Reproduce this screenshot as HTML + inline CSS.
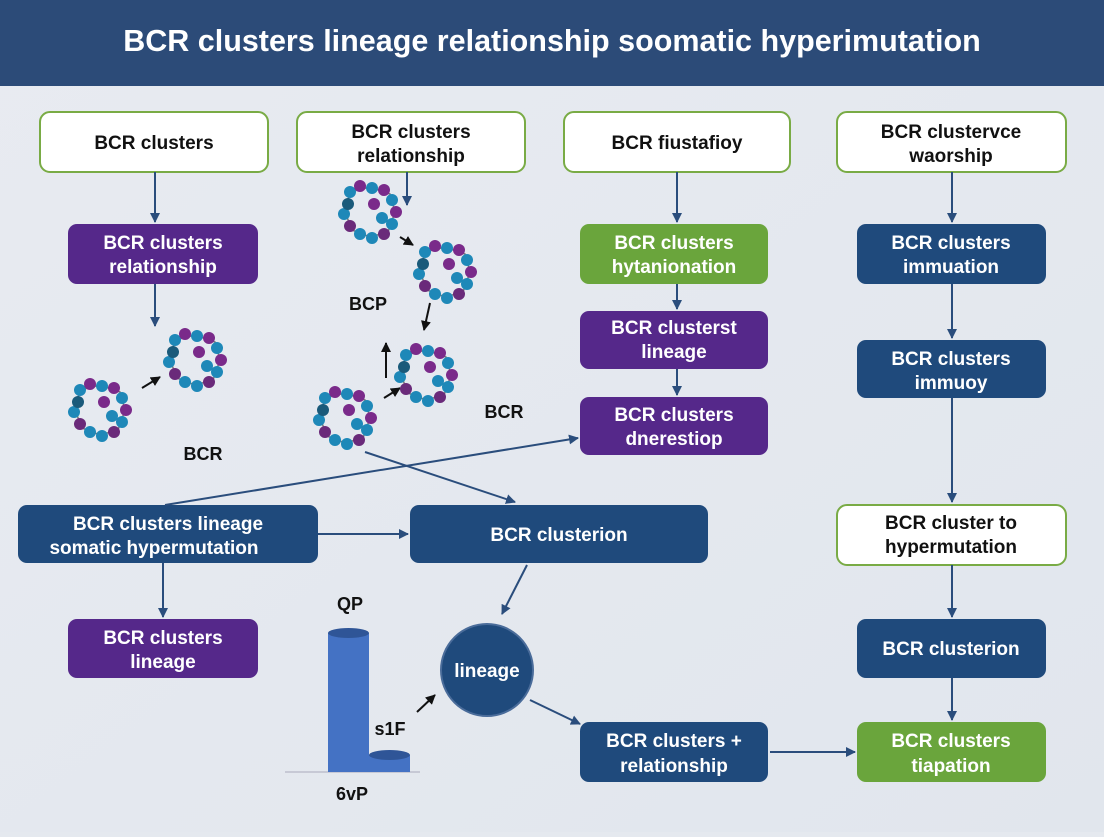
<!DOCTYPE html>
<html><head><meta charset="utf-8"><style>
body{margin:0;width:1104px;height:832px;overflow:hidden;background:#e5e9ef;font-family:"Liberation Sans",sans-serif}
</style></head><body>
<svg width="1104" height="832" viewBox="0 0 1104 832" xmlns="http://www.w3.org/2000/svg" font-family="Liberation Sans, sans-serif">
<defs>
<linearGradient id="bg" x1="0" y1="0" x2="1" y2="1"><stop offset="0" stop-color="#e8ebf1"/><stop offset="1" stop-color="#e1e6ed"/></linearGradient>
<marker id="a" viewBox="0 0 10 10" refX="9" refY="5" markerWidth="5" markerHeight="5" orient="auto"><path d="M0,0L10,5L0,10z" fill="#2a4d7c"/></marker>
<marker id="k" viewBox="0 0 10 10" refX="9" refY="5" markerWidth="5" markerHeight="5" orient="auto"><path d="M0,0L10,5L0,10z" fill="#111"/></marker>
<g id="mol">
<g stroke="#777" stroke-width="1.5" fill="none"><path d="M-20,-20L0,-25L20,-18L25,0L18,20L0,25L-18,18L-25,0Z"/></g>
<circle cx="-20" cy="-20" r="6" fill="#1e88b8"/><circle cx="-10" cy="-26" r="6" fill="#7a2a8a"/><circle cx="2" cy="-24" r="6" fill="#1e88b8"/><circle cx="14" cy="-22" r="6" fill="#7a2a8a"/><circle cx="22" cy="-12" r="6" fill="#1e88b8"/><circle cx="26" cy="0" r="6" fill="#7a2a8a"/><circle cx="22" cy="12" r="6" fill="#1e88b8"/><circle cx="14" cy="22" r="6" fill="#6a2a7a"/><circle cx="2" cy="26" r="6" fill="#1e88b8"/><circle cx="-10" cy="22" r="6" fill="#1e88b8"/><circle cx="-20" cy="14" r="6" fill="#6a2a7a"/><circle cx="-26" cy="2" r="6" fill="#1e88b8"/><circle cx="-22" cy="-8" r="6" fill="#1a5a7a"/><circle cx="4" cy="-8" r="6" fill="#7a2a8a"/><circle cx="12" cy="6" r="6" fill="#1e88b8"/>
</g>
</defs>
<rect width="1104" height="832" fill="url(#bg)"/>
<rect width="1104" height="86" fill="#2c4b78"/>
<text x="552" y="51" text-anchor="middle" font-size="30.5" font-weight="bold" fill="#fff">BCR clusters lineage relationship soomatic hyperimutation</text>

<g font-size="19" text-anchor="middle" font-weight="bold">
<g fill="#fff" stroke="#79ab45" stroke-width="2">
<rect x="40" y="112" width="228" height="60" rx="10"/><rect x="297" y="112" width="228" height="60" rx="10"/>
<rect x="564" y="112" width="226" height="60" rx="10"/><rect x="837" y="112" width="229" height="60" rx="10"/>
<rect x="837" y="505" width="229" height="60" rx="10"/>
</g>
<g fill="#111">
<text x="154" y="149">BCR clusters</text>
<text x="411" y="138">BCR clusters</text><text x="411" y="162">relationship</text>
<text x="677" y="149">BCR fiustafioy</text>
<text x="951" y="138">BCR clustervce</text><text x="951" y="162">waorship</text>
<text x="951" y="529">BCR cluster to</text><text x="951" y="553">hypermutation</text>
</g>
<g fill="#55288a"><rect x="68" y="224" width="190" height="60" rx="9"/><rect x="580" y="311" width="188" height="58" rx="9"/><rect x="580" y="397" width="188" height="58" rx="9"/><rect x="68" y="619" width="190" height="59" rx="9"/></g>
<g fill="#6aa53c"><rect x="580" y="224" width="188" height="60" rx="9"/><rect x="857" y="722" width="189" height="60" rx="9"/></g>
<g fill="#1f4a7c"><rect x="857" y="224" width="189" height="60" rx="9"/><rect x="857" y="340" width="189" height="58" rx="9"/><rect x="857" y="619" width="189" height="59" rx="9"/><rect x="18" y="505" width="300" height="58" rx="9"/><rect x="410" y="505" width="298" height="58" rx="9"/><rect x="580" y="722" width="188" height="60" rx="9"/><circle cx="487" cy="670" r="46" stroke="#4a6c9a" stroke-width="2"/></g>
<g fill="#fff">
<text x="163" y="249">BCR clusters</text><text x="163" y="273">relationship</text>
<text x="674" y="249">BCR clusters</text><text x="674" y="273">hytanionation</text>
<text x="674" y="334">BCR clusterst</text><text x="674" y="358">lineage</text>
<text x="674" y="421">BCR clusters</text><text x="674" y="445">dnerestiop</text>
<text x="951" y="249">BCR clusters</text><text x="951" y="273">immuation</text>
<text x="951" y="365">BCR clusters</text><text x="951" y="389">immuoy</text>
<text x="951" y="655">BCR clusterion</text>
<text x="951" y="747">BCR clusters</text><text x="951" y="772">tiapation</text>
<text x="168" y="530">BCR clusters lineage</text><text x="154" y="554">somatic hypermutation</text>
<text x="559" y="541">BCR clusterion</text>
<text x="163" y="644">BCR clusters</text><text x="163" y="668">lineage</text>
<text x="487" y="677">lineage</text>
<text x="674" y="747">BCR clusters +</text><text x="674" y="772">relationship</text>
</g>
<g fill="#111" font-size="18">
<text x="203" y="460">BCR</text><text x="368" y="310">BCP</text><text x="504" y="418">BCR</text>
<text x="350" y="610">QP</text><text x="390" y="735">s1F</text><text x="352" y="800">6vP</text>
</g>
</g>
<g stroke="#2a4d7c" stroke-width="2" fill="none" marker-end="url(#a)">
<path d="M155,172V222"/><path d="M155,284V326"/><path d="M407,172V205"/>
<path d="M677,172V222"/><path d="M677,284V309"/><path d="M677,369V395"/>
<path d="M952,172V222"/><path d="M952,284V338"/><path d="M952,398V502"/><path d="M952,565V617"/><path d="M952,678V720"/>
<path d="M318,534H408"/><path d="M163,563V617"/>
<path d="M165,505L578,438"/><path d="M365,452L515,502"/>
<path d="M527,565L502,614"/><path d="M530,700L580,724"/><path d="M770,752H855"/>
</g>
<g stroke="#111" stroke-width="2" marker-end="url(#k)">
<path d="M142,388L160,377"/><path d="M400,237L413,245"/><path d="M430,303L424,330"/>
<path d="M386,378V343"/><path d="M384,398L400,388"/><path d="M417,712L435,695"/>
</g>
<use href="#mol" x="100" y="410"/><use href="#mol" x="195" y="360"/>
<use href="#mol" x="370" y="212"/><use href="#mol" x="445" y="272"/>
<use href="#mol" x="345" y="418"/><use href="#mol" x="426" y="375"/>
<line x1="285" y1="772" x2="420" y2="772" stroke="#aab" stroke-width="1"/>
<rect x="328" y="633" width="41" height="139" fill="#4472c4"/><ellipse cx="348.5" cy="633" rx="20.5" ry="5" fill="#2f5597"/>
<rect x="369" y="755" width="41" height="17" fill="#4472c4"/><ellipse cx="389.5" cy="755" rx="20.5" ry="5" fill="#2f5597"/>
</svg>
</body></html>
